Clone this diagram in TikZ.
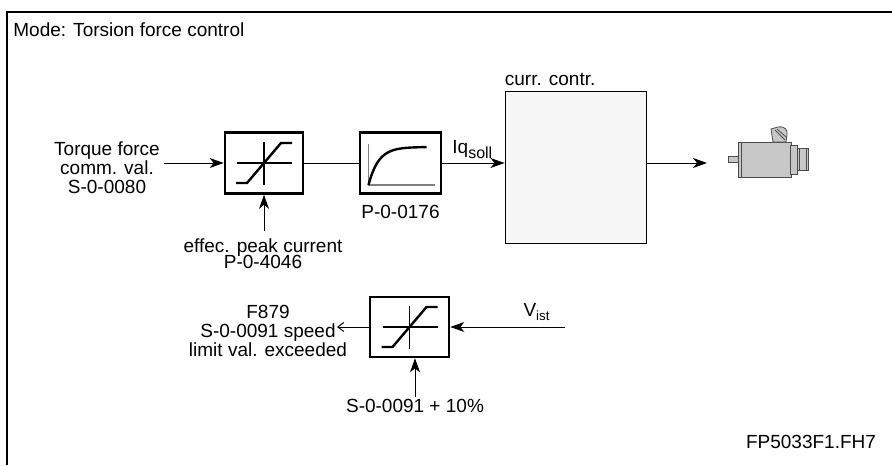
\documentclass[tikz,border=0pt]{standalone}
\usepackage{fontspec}
\setmainfont{Liberation Sans}
\usetikzlibrary{arrows.meta, positioning, calc}
\definecolor{ccfill}{gray}{0.97}
\definecolor{motorgray}{gray}{0.78}
\newcommand{\lblfont}{\fontsize{9.5}{9.5}\selectfont}

\tikzset{
  blk/.style={draw, line width=1.3pt, minimum width=39pt, minimum height=30.5pt, inner sep=0pt},
  lbl/.style={align=center, inner sep=1pt, font=\lblfont},
  sig/.style={line width=0.5pt},
  sigarrow/.style={sig, -{Stealth[length=7pt, width=5pt, inset=2pt]}},
  limiter/.pic={
    \draw[line width=0.8pt] (-27,0) -- (28,0) (0,-21) -- (0,22);
    \draw[line width=1.2pt] (-28,20) -- (-17,20) -- (17,-20) -- (28,-20);
  },
  ptone/.pic={
    \draw[gray, line width=0.6pt] (-32,-19) -- (-32,22) -- (34,22);
    \draw[line width=1.2pt] plot[domain=0:58, samples=40, smooth] ({-32+\x},{22-38*(1-exp(-\x/10))});
  }
}

\begin{document}
\begin{tikzpicture}[x=0.5pt, y=-0.5pt]
\useasboundingbox (0,0) rectangle (892,465);
\draw[line width=1pt] (7,465) |- (892,12);
\node[lbl, anchor=west] (mode) at (11,30) {Mode: Torsion force control};

\node[blk] (lim1) at (264,163) {};
\pic at (lim1) {limiter};
\node[blk, minimum width=40.5pt] (pt1) at (400.5,163) {};
\pic at (pt1) {ptone};
\node[draw, fill=ccfill, line width=0.5pt, minimum width=70.5pt, minimum height=75.5pt] (cc) at (575.5,167.5) {};
\node[lbl, anchor=south west, inner sep=0pt] (cclbl) at ([yshift=2.5pt]cc.north west) {curr. contr.};

\node[lbl] (cmd) at (107,168) {Torque force\\comm. val.\\S-0-0080};
\node[lbl] (peak) at (263,254) {effec. peak current\\[-1.5pt]P-0-4046};
\node[lbl, below=4pt of pt1] (ptpar) {P-0-0176};
\node[lbl, anchor=south west] (iq) at (450,161) {Iq\textsubscript{\fontsize{8}{8}\selectfont soll}};
\coordinate (motor) at (707,163);

\node[blk, minimum width=39.5pt, minimum height=30pt] (lim2) at (409.5,327) {};
\pic at (lim2) {limiter};
\coordinate (vin) at (565,327);
\node[lbl] (vist) at (537,312) {V\textsubscript{ist}};
\node[lbl] (spd) at (268,331) {F879\\S-0-0091 speed\\limit val. exceeded};
\coordinate (spdout) at (337,327);
\node[lbl] (lim10) at (415,406) {S-0-0091 + 10\%};
\node[lbl] (fp) at (811,442) {FP5033F1.FH7};

\draw[sigarrow, shorten <=1pt] (cmd.east |- lim1) -- (lim1.west);
\draw[sigarrow] ([yshift=3pt]lim1.south |- peak.north) -- (lim1.south);
\draw[sig] (lim1.east) -- (pt1.west);
\draw[sigarrow] (pt1.east) -- (cc.west |- pt1.east);
\draw[sigarrow] (cc.east |- pt1.east) -- (motor);
\draw[sigarrow] (vin) -- (lim2.east |- vin);
\draw[sig, -{Straight Barb[length=3pt, width=4.5pt]}] (lim2.west |- spdout) -- (spdout);
\draw[sigarrow] (lim10.north) -- (lim10.north |- lim2.south);

\begin{scope}[draw=black!70, fill=motorgray, line width=0.4pt]
\filldraw (728,156.5) rectangle (738.5,162.5);
\filldraw (738,142) rectangle (791,177);
\draw (741,142) -- (741,177);
\filldraw (790,145) rectangle (797,174);
\filldraw (797,148.5) rectangle (808,170.5);
\draw (799,148.5) -- (799,170.5) (806,148.5) -- (806,170.5);
\filldraw (773,142) -- (771,129) -- (778,127) .. controls (785,126) and (788,130) .. (787,135) -- (786,142) -- cycle;
\draw (775,130) -- (785,140) (777,129) -- (786,137);
\end{scope}
\end{tikzpicture}
\end{document}
